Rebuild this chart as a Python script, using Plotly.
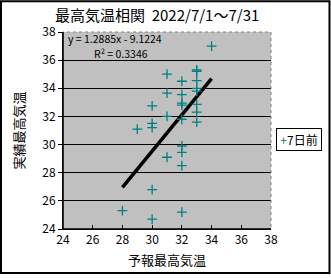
import plotly.graph_objects as go

# Data (forecast max temp, actual max temp)
forecast = [28, 29, 30, 30, 30, 30, 30, 31, 31, 31, 31,
            32, 32, 32, 32, 32, 32, 32, 32, 32,
            33, 33, 33, 33, 33, 33, 33, 33, 34]
actual = [25.3, 31.1, 32.75, 31.5, 31.2, 26.8, 24.7, 35.0, 33.65, 32.0, 29.1,
          34.5, 33.55, 32.95, 32.8, 31.8, 29.9, 29.45, 28.5, 25.2,
          35.3, 35.2, 34.55, 34.0, 33.8, 32.85, 32.3, 31.6, 37.0]
series_name = "7日前"
trend_slope = 1.2885
trend_intercept = -9.1224
r_squared = 0.3346
title_text = "最高気温相関  2022/7/1～7/31"
x_title = "予報最高気温"
y_title = "実績最高気温"
tick_vals = [24, 26, 28, 30, 32, 34, 36, 38]

FONT = "Noto Sans CJK JP"
TEAL = "#008080"

tx = [min(forecast), max(forecast)]
ty = [trend_slope * v + trend_intercept for v in tx]

fig = go.Figure()
fig.add_trace(go.Scatter(
    x=tx, y=ty, mode="lines", line=dict(color="black", width=3.5),
    showlegend=False, hoverinfo="skip"))
fig.add_trace(go.Scatter(
    x=forecast, y=actual, mode="markers", name=series_name,
    showlegend=False,
    marker=dict(symbol="cross-thin-open", size=7, color=TEAL,
                line=dict(color=TEAL, width=1.3))))

W, H = 331, 278
L, R, T, B = 63, 60, 32, 47
pw, ph = W - L - R, H - T - B

def px(xp):
    return (xp - L) / pw

def py(yp):
    return (H - B - yp) / ph

fig.update_layout(
    width=W, height=H,
    margin=dict(l=L, r=R, t=T, b=B),
    paper_bgcolor="white", plot_bgcolor="#C0C0C0",
    font=dict(family=FONT, size=12, color="black"),
    showlegend=False,
    xaxis=dict(range=[24, 38], tickvals=tick_vals, showgrid=False,
               zeroline=False, showline=True, linecolor="black", linewidth=1,
               ticks="inside", ticklen=4, tickcolor="black",
               tickfont=dict(size=12, family=FONT), fixedrange=True,
               title=dict(text=x_title, font=dict(size=13, family=FONT), standoff=9)),
    yaxis=dict(range=[24, 38], tickvals=tick_vals, showgrid=True,
               gridcolor="black", gridwidth=1,
               zeroline=False, showline=True, linecolor="black", linewidth=1,
               ticks="outside", ticklen=4, tickcolor="black",
               tickfont=dict(size=12, family=FONT), fixedrange=True,
               title=dict(text=y_title, font=dict(size=13, family=FONT), standoff=14)),
    shapes=[
        dict(type="rect", xref="paper", yref="paper", x0=0, x1=1, y0=0, y1=1,
             line=dict(color="#808080", width=1, dash="dot"), layer="above"),
        dict(type="line", xref="paper", yref="paper", x0=0, x1=0, y0=0, y1=1,
             line=dict(color="black", width=1.5)),
        dict(type="line", xref="paper", yref="paper", x0=0, x1=1, y0=0, y1=0,
             line=dict(color="black", width=1.5)),
        dict(type="rect", xref="paper", yref="paper",
             x0=px(1), x1=px(329.5), y0=py(275.5), y1=py(1),
             line=dict(color="black", width=2)),
    ],
    annotations=[
        dict(text=title_text, xref="paper", yref="paper", x=px(157), y=py(14),
             xanchor="center", yanchor="middle", showarrow=False,
             font=dict(size=15, family=FONT)),
        dict(text=f"y = {trend_slope}x - {abs(trend_intercept)}", xref="paper", yref="paper",
             x=px(66), y=py(38.5), xanchor="left", yanchor="middle", showarrow=False,
             font=dict(size=10.5, family=FONT)),
        dict(text=f"R² = {r_squared}", xref="paper", yref="paper",
             x=px(92), y=py(54), xanchor="left", yanchor="middle", showarrow=False,
             font=dict(size=10.5, family=FONT)),
        dict(text=f"<span style='color:{TEAL}'>+</span>{series_name}",
             xref="paper", yref="paper", x=px(276), y=py(141),
             xanchor="left", yanchor="middle", showarrow=False,
             bgcolor="white", bordercolor="black", borderwidth=1, borderpad=2,
             width=40, align="center",
             font=dict(size=12, family=FONT)),
    ],
)

fig.write_html("out.html")
